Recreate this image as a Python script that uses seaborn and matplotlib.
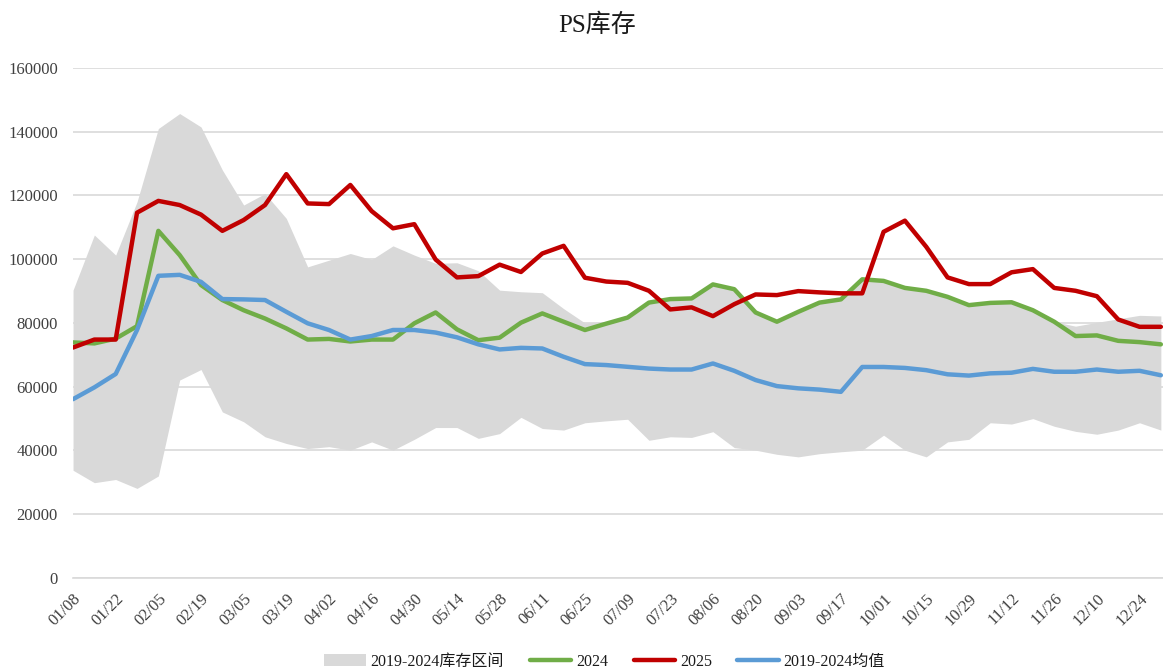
import numpy as np
import pandas as pd
import matplotlib
matplotlib.use("Agg")
import matplotlib.pyplot as plt
import seaborn as sns
from matplotlib.patches import Patch
from matplotlib.lines import Line2D

# weekly data, 01/08 .. 12/31 (52 weeks)
tick_labels = ["01/08", "01/22", "02/05", "02/19", "03/05", "03/19", "04/02",
               "04/16", "04/30", "05/14", "05/28", "06/11", "06/25", "07/09",
               "07/23", "08/06", "08/20", "09/03", "09/17", "10/01", "10/15",
               "10/29", "11/12", "11/26", "12/10", "12/24"]

y2025 = [72300, 74800, 74800, 114600, 118300, 117000, 114000, 108900, 112300, 117000,
         126700, 117500, 117300, 123300, 115100, 109700, 111000, 99900, 94300, 94700,
         98300, 96000, 101800, 104200, 94200, 93000, 92600, 90100, 84250, 84900,
         82150, 85900, 88950, 88750, 90000, 89600, 89300, 89300, 108600, 112100,
         103900, 94300, 92200, 92200, 95900, 96900, 91000, 90100, 88400, 81100,
         78800, 78800]

y2024 = [73900, 73600, 75100, 79000, 108900, 101300, 91900, 87200, 84000, 81400,
         78300, 74800, 75000, 74200, 74800, 74800, 79900, 83300, 78000, 74600,
         75400, 80100, 83000, 80400, 77800, 79800, 81700, 86400, 87500, 87700,
         92100, 90600, 83300, 80400, 83500, 86400, 87400, 93700, 93200, 91000,
         90100, 88200, 85600, 86300, 86500, 84000, 80400, 75900, 76100, 74400,
         74000, 73300]

mean_1924 = [56100, 59800, 64000, 77800, 94800, 95100, 92900, 87500, 87400, 87200,
             83500, 79900, 77800, 74800, 75900, 77800, 77800, 77000, 75500, 73300,
             71700, 72200, 72000, 69400, 67100, 66800, 66250, 65700, 65400, 65400,
             67300, 65000, 62100, 60200, 59500, 59100, 58400, 66200, 66200, 65900,
             65200, 63900, 63500, 64200, 64400, 65600, 64700, 64700, 65400, 64700,
             65000, 63600]

band_max = [90300, 107600, 101300, 118000, 141000, 145700, 141500, 128000, 117000, 120600,
            112800, 97600, 99700, 101800, 99900, 104200, 101300, 98700, 98900, 96400,
            90300, 89800, 89500, 84500, 80000, 80400, 81700, 86400, 87500, 87700,
            92100, 90600, 83300, 80400, 83500, 86400, 87400, 93700, 93200, 91000,
            90100, 88200, 85600, 86300, 86500, 84000, 80400, 79000, 80200, 81300,
            82400, 82200]

band_min = [33800, 29900, 30900, 28100, 32000, 62100, 65400, 52100, 49000, 44300,
            42200, 40600, 41200, 40100, 42700, 40100, 43500, 47200, 47200, 43800,
            45300, 50400, 46900, 46400, 48700, 49300, 49800, 43200, 44300, 44100,
            45900, 40900, 40100, 38800, 38000, 39000, 39600, 40100, 44800, 40100,
            38000, 42700, 43500, 48700, 48300, 50000, 47600, 46000, 45100, 46400,
            48700, 46400]

weeks = np.arange(len(y2025))
series_names = ["2024", "2025", "2019-2024均值"]
colors = {"2024": "#70AD47", "2025": "#C00000", "2019-2024均值": "#5B9BD5"}

df = pd.DataFrame({
    "week": np.concatenate([weeks, weeks, weeks]),
    "value": y2024 + y2025 + mean_1924,
    "series": np.repeat(series_names, len(weeks)),
})

sns.set_style("white")
fonts = ["Liberation Serif", "Noto Sans CJK SC", "DejaVu Sans"]
plt.rcParams["font.family"] = fonts

fig = plt.figure(figsize=(11.63, 6.71), dpi=100)
ax = fig.add_axes([0.0628, 0.1386, 0.9372, 0.7601])

ax.fill_between(weeks, band_min, band_max, color="#D9D9D9", linewidth=0, zorder=1)
sns.lineplot(data=df, x="week", y="value", hue="series", hue_order=series_names,
             palette=colors, linewidth=3.2, ax=ax, legend=False, zorder=3)

ax.set_xlim(0, 51.1)
ax.set_ylim(0, 160000)
ax.set_yticks(range(0, 160001, 20000))
ax.set_yticklabels([str(v) for v in range(0, 160001, 20000)], fontsize=12, color="#404040")
ax.set_xticks(weeks[::2])
ax.set_xticklabels(tick_labels, rotation=45, ha="right", va="top",
                   rotation_mode="anchor", fontsize=12, color="#404040")
ax.set_xlabel("")
ax.set_ylabel("")
ax.grid(axis="y", color="#D9D9D9", linewidth=1.2, zorder=0)
ax.set_axisbelow(True)
for s in ["top", "right", "left"]:
    ax.spines[s].set_visible(False)
ax.spines["bottom"].set_color("#D9D9D9")
ax.spines["bottom"].set_linewidth(1.2)
ax.spines["bottom"].set_zorder(0.5)
ax.tick_params(axis="x", length=5, color="#BFBFBF", pad=4)
ax.tick_params(axis="y", length=0, pad=11)

fig.text(0.513, 0.963, "PS库存", ha="center", va="center", fontsize=18, color="#1a1a1a")

handles = [Patch(facecolor="#D9D9D9", edgecolor="none", label="2019-2024库存区间")]
handles += [Line2D([0], [0], color=colors[n], linewidth=3.2, label=n) for n in series_names]
fig.legend(handles=handles, loc="center", bbox_to_anchor=(0.52, 0.014), ncol=4,
           frameon=False, fontsize=11.5, handlelength=2.6, handletextpad=0.3,
           columnspacing=1.6, labelcolor="#1a1a1a")

fig.savefig("out.png", dpi=100)
